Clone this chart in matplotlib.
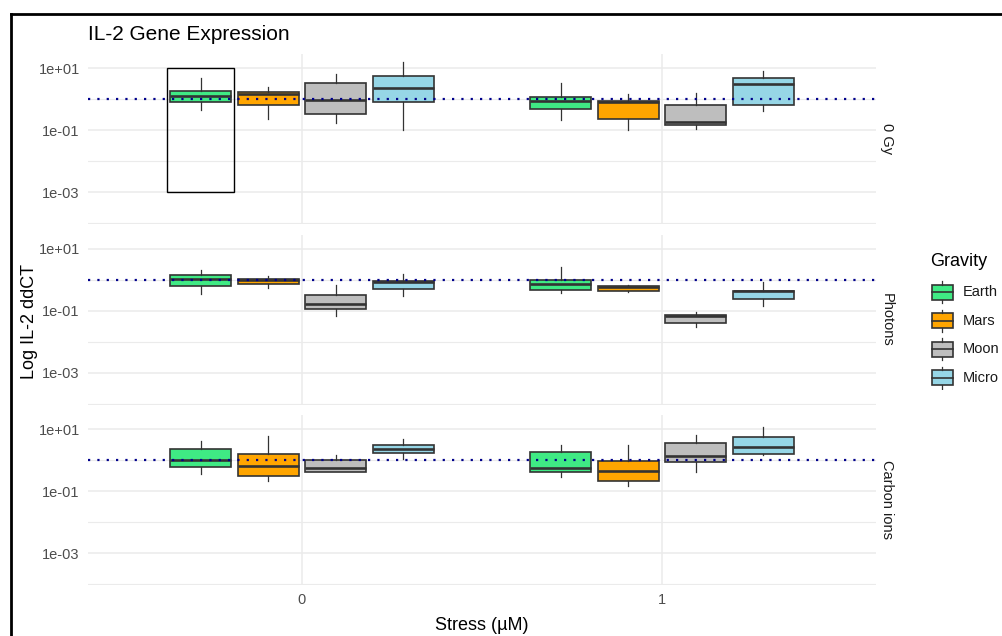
import matplotlib
matplotlib.use("Agg")
import matplotlib.pyplot as plt
from matplotlib.patches import Rectangle
from matplotlib.lines import Line2D
from matplotlib.ticker import FixedLocator, NullFormatter

plt.rcParams['font.family'] = ['Liberation Sans', 'DejaVu Sans']

# groups / facets
gravity = ["Earth", "Mars", "Moon", "Micro"]
stress = ["0", "1"]
radiation = ["0 Gy", "Photons", "Carbon ions"]
colors = ["#3FEA84", "#FFA500", "#BEBEBE", "#96D6E6"]

# box stats, order: stress 0 (Earth, Mars, Moon, Micro), stress 1 (Earth, Mars, Moon, Micro)
gy0_q1 = [0.82, 0.67, 0.34, 0.80, 0.50, 0.237, 0.148, 0.67]
gy0_med = [1.25, 1.51, 0.95, 2.37, 0.88, 0.82, 0.187, 3.18]
gy0_q3 = [1.90, 1.68, 3.28, 5.60, 1.16, 0.90, 0.67, 4.76]
gy0_lo = [0.45, 0.24, 0.176, 0.102, 0.215, 0.102, 0.113, 0.41]
gy0_hi = [4.9, 2.57, 6.4, 16.3, 3.36, 1.45, 1.55, 7.96]

ph_q1 = [0.61, 0.74, 0.113, 0.51, 0.46, 0.42, 0.041, 0.245]
ph_med = [1.05, 1.02, 0.164, 0.86, 0.72, 0.565, 0.066, 0.42]
ph_q3 = [1.45, 1.10, 0.328, 0.91, 0.98, 0.64, 0.074, 0.44]
ph_lo = [0.355, 0.55, 0.066, 0.29, 0.38, 0.39, 0.030, 0.148]
ph_hi = [2.14, 1.32, 0.69, 1.53, 2.57, 0.66, 0.091, 0.86]

ci_q1 = [0.61, 0.31, 0.43, 1.68, 0.42, 0.22, 0.88, 1.56]
ci_med = [1.02, 0.67, 0.575, 2.37, 0.575, 0.45, 1.38, 2.7]
ci_q3 = [2.26, 1.60, 1.00, 3.05, 1.89, 0.97, 3.61, 5.76]
ci_lo = [0.35, 0.215, 0.42, 1.07, 0.28, 0.148, 0.42, 1.45]
ci_hi = [4.1, 6.1, 1.45, 4.87, 3.12, 3.12, 6.7, 11.6]

panel_data = [
    (gy0_q1, gy0_med, gy0_q3, gy0_lo, gy0_hi),
    (ph_q1, ph_med, ph_q3, ph_lo, ph_hi),
    (ci_q1, ci_med, ci_q3, ci_lo, ci_hi),
]

# outlined highlight box in the 0 Gy panel (around Earth, stress 0)
highlight_y = [1e-3, 10.5]

W, H = 1003, 636
fig = plt.figure(figsize=(W / 100, H / 100), dpi=100)


def px_box(left, top, w, h):
    return [left / W, 1 - (top + h) / H, w / W, h / H]


dodge = 0.1875
positions = [s + (g - 1.5) * dodge for s in range(len(stress)) for g in range(len(gravity))]
edge = "#333333"
grid_col = "#EBEBEB"

panel_tops = [54, 234.5, 415]
axes = []
for i, name in enumerate(radiation):
    ax = fig.add_axes(px_box(88, panel_tops[i], 788, 170))
    q1, med, q3, lo, hi = panel_data[i]
    stats = [dict(q1=q1[k], med=med[k], q3=q3[k], whislo=lo[k], whishi=hi[k])
             for k in range(len(q1))]

    if i == 0:
        ax.add_patch(Rectangle((positions[0] - dodge / 2, highlight_y[0]), dodge,
                               highlight_y[1] - highlight_y[0],
                               fill=False, edgecolor="black", lw=1.0, zorder=1.5))

    bp = ax.bxp(stats, positions=positions, widths=0.169, patch_artist=True,
                showcaps=False, showfliers=False, manage_ticks=False,
                boxprops=dict(edgecolor=edge, linewidth=1.2),
                medianprops=dict(color=edge, linewidth=1.9),
                whiskerprops=dict(color=edge, linewidth=0.9))
    for k, patch in enumerate(bp["boxes"]):
        patch.set_facecolor(colors[k % len(gravity)])
        patch.set_zorder(2)

    ax.axhline(1, color="#00008B", lw=1.6, linestyle=(0, (1, 3.2)), zorder=5)

    ax.set_yscale("log")
    ax.set_ylim(10 ** -4.02, 10 ** 1.46)
    ax.set_xlim(-0.594, 1.594)
    ax.yaxis.set_major_locator(FixedLocator([1e1, 1e-1, 1e-3]))
    ax.set_yticklabels(["1e+01", "1e-01", "1e-03"])
    ax.yaxis.set_minor_locator(FixedLocator([1, 1e-2, 1e-4]))
    ax.yaxis.set_minor_formatter(NullFormatter())
    ax.set_xticks([0, 1])
    if i == 2:
        ax.set_xticklabels(stress)
    else:
        ax.set_xticklabels([])
    ax.grid(which="major", color=grid_col, lw=1.1, zorder=0)
    ax.grid(which="minor", axis="y", color=grid_col, lw=0.8, zorder=0)
    ax.set_axisbelow(True)
    ax.tick_params(which="both", length=0, labelsize=10.5, labelcolor="#4D4D4D", pad=6)
    for sp in ax.spines.values():
        sp.set_visible(False)

    fig.text(887 / W, 1 - (panel_tops[i] + 85) / H, name, rotation=-90,
             ha="center", va="center", fontsize=10.5, color="#1A1A1A")
    axes.append(ax)

fig.text(88 / W, 1 - 34 / H, "IL-2 Gene Expression", fontsize=15, ha="left", va="center")
fig.text(482 / W, 1 - 625 / H, "Stress (µM)", fontsize=13, ha="center", va="center")
fig.text(30 / W, 1 - 321 / H, "Log IL-2 ddCT", fontsize=13, rotation=90,
         ha="center", va="center")

# legend
lax = fig.add_axes(px_box(920, 245, 83, 145))
lax.set_xlim(920, 1003)
lax.set_ylim(390, 245)
lax.axis("off")
lax.text(930, 261.5, "Gravity", fontsize=13, ha="left", va="center")
for k, g in enumerate(gravity):
    cy = 292.5 + k * 28.4
    lax.add_patch(Rectangle((932, cy - 7.5), 21, 15, facecolor=colors[k],
                            edgecolor=edge, lw=1.2))
    lax.plot([932, 953], [cy, cy], color=edge, lw=1.2)
    lax.plot([942.5, 942.5], [cy - 11, cy - 7.5], color=edge, lw=0.9)
    lax.plot([942.5, 942.5], [cy + 7.5, cy + 11], color=edge, lw=0.9)
    lax.text(963, cy, g, fontsize=10.5, ha="left", va="center", color="#1A1A1A")

# frame of the screenshot
fig.add_artist(Line2D([11 / W, 11 / W], [0, 1 - 14 / H], color="black", lw=2))
fig.add_artist(Line2D([11 / W, 1], [1 - 14 / H, 1 - 14 / H], color="black", lw=2))

fig.savefig("out.png", dpi=100)
